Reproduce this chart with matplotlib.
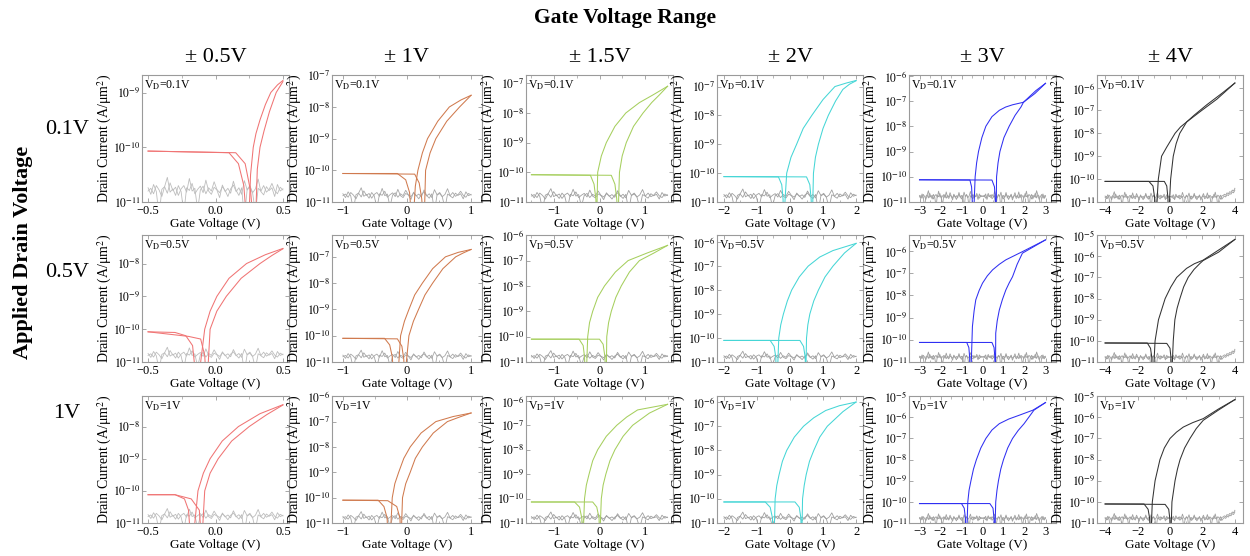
import numpy as np
import matplotlib
matplotlib.use('Agg')
import matplotlib.pyplot as plt
from matplotlib.ticker import FixedLocator, AutoMinorLocator, NullLocator

plt.rcParams['font.family'] = ['Liberation Serif', 'DejaVu Serif']
plt.rcParams['mathtext.fontset'] = 'stix'
plt.rcParams['axes.unicode_minus'] = True

# ---------------- data ----------------
sweep_ranges = [0.5, 1, 1.5, 2, 3, 4]
col_titles = ['± 0.5V', '± 1V', '± 1.5V', '± 2V', '± 3V', '± 4V']
drain_labels = ['0.1V', '0.5V', '1V']
vd_texts = [r'V$_{\mathrm{D}}$=0.1V', r'V$_{\mathrm{D}}$=0.5V', r'V$_{\mathrm{D}}$=1V']
colors = ['#f07474', '#d07a4e', '#a6cf5e', '#45d6d6', '#2f2ff2', '#333333']
noise_colors = ['#bdbdbd', '#a8a8a8', '#a0a0a0', '#a0a0a0', '#a0a0a0', '#a0a0a0']

x_half = [0.545, 1.17, 1.62, 2.21, 3.5, 4.5]
x_ticks = [[-0.5, 0, 0.5], [-1, 0, 1], [-1, 0, 1], [-2, -1, 0, 1, 2],
           [-3, -2, -1, 0, 1, 2, 3], [-4, -2, 0, 2, 4]]

ytop_vd01 = [-8.68, -6.99, -6.72, -6.6, -5.97, -5.45]
ytop_vd05 = [-7.13, -6.17, -5.99, -5.7, -5.28, -4.99]
ytop_vd1 = [-7.05, -5.99, -5.8, -5.75, -4.99, -4.99]

# V_D = 0.1 V : branch A (left threshold) and branch B (right threshold), log10(I)
vd01_a_V = [
    [-0.5, 0.10, 0.17, 0.21, 0.235, 0.245, 0.26, 0.28, 0.30, 0.33, 0.37, 0.41, 0.46, 0.5],
    [-1, -0.15, -0.02, 0.04, 0.07, 0.10, 0.13, 0.17, 0.24, 0.32, 0.48, 0.66, 0.84, 1.0],
    [-1.5, -0.2, -0.12, -0.08, -0.07, -0.06, -0.04, 0.04, 0.15, 0.34, 0.58, 0.88, 1.18, 1.5],
    [-2, -0.35, -0.25, -0.21, -0.2, -0.18, -0.1, 0.03, 0.2, 0.4, 0.66, 1.0, 1.36, 1.7, 2.0],
    [-3, -0.6, -0.52, -0.49, -0.48, -0.42, -0.35, -0.28, -0.19, -0.03, 0.16, 0.45, 0.8, 1.1,
     1.43, 1.95, 2.5, 3.0],
    [-4, -1.3, -1.05, -0.95, -0.93, -0.85, -0.72, -0.52, -0.2, 0.31, 0.65, 1.03, 1.86, 2.9, 4.0],
]
vd01_a_logI = [
    [-10.07, -10.1, -10.3, -10.7, -11.5, -11.5, -10.5, -10.0, -9.75, -9.5, -9.22, -9.0, -8.86, -8.78],
    [-10.1, -10.1, -10.3, -10.7, -11.5, -11.5, -10.5, -10.0, -9.45, -9.0, -8.45, -8.0, -7.78, -7.63],
    [-10.08, -10.1, -10.4, -10.9, -11.5, -11.5, -10.0, -9.45, -9.0, -8.45, -8.0, -7.65, -7.39, -7.1],
    [-10.12, -10.13, -10.4, -10.9, -11.5, -11.5, -10.0, -9.45, -9.0, -8.45, -8.0, -7.45, -7.0,
     -6.88, -6.79],
    [-10.12, -10.13, -10.4, -10.9, -11.5, -11.5, -10.0, -9.45, -9.0, -8.45, -8.0, -7.62, -7.37,
     -7.24, -7.15, -7.05, -6.7, -6.3],
    [-10.1, -10.1, -10.3, -10.8, -11.5, -11.5, -10.0, -9.0, -8.6, -8.0, -7.72, -7.5, -7.05, -6.5, -5.8],
]
vd01_b_V = [
    [-0.5, 0.15, 0.22, 0.26, 0.285, 0.295, 0.31, 0.33, 0.36, 0.40, 0.45, 0.5],
    [-1, 0.12, 0.19, 0.23, 0.25, 0.27, 0.29, 0.36, 0.45, 0.62, 0.82, 1.0],
    [-1.5, 0.26, 0.34, 0.38, 0.40, 0.41, 0.44, 0.5, 0.59, 0.75, 0.96, 1.15, 1.32, 1.5],
    [-2, 0.5, 0.6, 0.64, 0.66, 0.68, 0.71, 0.77, 0.86, 1.0, 1.16, 1.38, 1.6, 1.8, 2.0],
    [-3, 0.45, 0.57, 0.61, 0.63, 0.65, 0.67, 0.74, 0.83, 1.02, 1.27, 1.55, 1.83, 1.95, 2.54, 3.0],
    [-4, -0.35, -0.2, -0.13, -0.1, -0.07, 0.04, 0.2, 0.38, 0.6, 1.03, 1.5, 2.27, 3.2, 4.0],
]
vd01_b_logI = [
    [-10.07, -10.1, -10.3, -10.8, -11.5, -11.5, -10.4, -10.0, -9.7, -9.35, -9.0, -8.8],
    [-10.1, -10.12, -10.4, -10.9, -11.5, -11.5, -10.0, -9.45, -9.0, -8.45, -8.0, -7.63],
    [-10.08, -10.1, -10.4, -10.9, -11.5, -11.5, -10.0, -9.45, -9.0, -8.45, -8.0, -7.65, -7.39, -7.1],
    [-10.12, -10.13, -10.4, -10.9, -11.5, -11.5, -10.0, -9.45, -9.0, -8.45, -8.0, -7.5, -7.1,
     -6.92, -6.8],
    [-10.12, -10.13, -10.4, -10.9, -11.5, -11.5, -10.0, -9.45, -9.0, -8.45, -8.0, -7.57, -7.24,
     -7.05, -6.59, -6.3],
    [-10.1, -10.1, -10.3, -10.8, -11.5, -11.5, -10.0, -9.0, -8.45, -8.0, -7.5, -7.2, -6.75, -6.25, -5.8],
]

# V_D = 0.5 V
vd05_a_V = [
    [-0.5, -0.3, -0.22, -0.17, -0.145, -0.125, -0.08, -0.04, 0.01, 0.1, 0.23, 0.37, 0.5],
    [-1, -0.35, -0.27, -0.23, -0.21, -0.14, -0.1, -0.04, 0.03, 0.12, 0.24, 0.4, 0.6, 0.8, 1.0],
    [-1.5, -0.45, -0.36, -0.33, -0.32, -0.29, -0.26, -0.22, -0.15, -0.04, 0.11, 0.35, 0.63, 1.05, 1.5],
    [-2, -0.6, -0.48, -0.43, -0.42, -0.38, -0.34, -0.28, -0.2, -0.08, 0.05, 0.28, 0.55, 0.9, 1.3, 2.0],
    [-3, -0.75, -0.65, -0.61, -0.6, -0.55, -0.48, -0.4, -0.32, -0.16, 0.0, 0.23, 0.48, 0.8, 1.11,
     1.9, 3.0],
    [-4, -1.4, -1.2, -1.12, -1.1, -1.02, -0.92, -0.71, -0.3, 0.05, 0.41, 1.02, 1.5, 2.04, 3.0, 4.0],
]
vd05_a_logI = [
    [-10.08, -10.1, -10.2, -10.5, -11.5, -11.5, -10.0, -9.45, -9.0, -8.45, -8.0, -7.73, -7.54],
    [-10.1, -10.1, -10.35, -10.8, -11.5, -11.5, -10.0, -9.45, -9.0, -8.45, -8.0, -7.45, -7.0,
     -6.83, -6.72],
    [-10.1, -10.1, -10.35, -10.8, -11.5, -11.5, -10.0, -9.45, -9.0, -8.45, -8.0, -7.45, -7.0,
     -6.7, -6.4],
    [-10.1, -10.1, -10.35, -10.8, -11.5, -11.5, -10.0, -9.45, -9.0, -8.45, -8.0, -7.45, -7.0,
     -6.62, -6.35, -6.05],
    [-10.12, -10.12, -10.35, -10.8, -11.5, -11.5, -9.4, -8.7, -8.2, -7.78, -7.45, -7.12, -6.85,
     -6.6, -6.4, -6.03, -5.5],
    [-10.1, -10.1, -10.35, -10.8, -11.5, -11.5, -10.0, -9.0, -8.0, -7.45, -7.0, -6.57, -6.35,
     -6.18, -5.7, -5.2],
]
vd05_b_V = [
    [-0.5, -0.2, -0.11, -0.08, -0.07, -0.06, -0.04, 0.01, 0.08, 0.19, 0.33, 0.42, 0.5],
    [-1, -0.15, -0.08, -0.05, -0.04, -0.03, 0.03, 0.1, 0.18, 0.28, 0.4, 0.56, 0.76, 0.88, 1.0],
    [-1.5, 0.0, 0.08, 0.12, 0.13, 0.15, 0.16, 0.2, 0.26, 0.36, 0.48, 0.66, 0.88, 1.2, 1.5],
    [-2, 0.3, 0.41, 0.46, 0.47, 0.48, 0.5, 0.54, 0.6, 0.72, 0.86, 1.06, 1.3, 1.65, 2.0],
    [-3, 0.45, 0.55, 0.59, 0.6, 0.62, 0.63, 0.7, 0.8, 0.95, 1.11, 1.27, 1.43, 1.65, 1.9, 2.45, 3.0],
    [-4, -0.2, 0.0, 0.06, 0.08, 0.12, 0.2, 0.3, 0.44, 0.61, 0.84, 1.12, 1.48, 1.84, 2.04, 3.0, 4.0],
]
vd05_b_logI = [
    [-10.08, -10.22, -10.3, -10.8, -11.5, -11.5, -10.0, -9.45, -9.0, -8.45, -8.0, -7.75, -7.55],
    [-10.1, -10.12, -10.4, -10.9, -11.5, -11.5, -10.0, -9.45, -9.0, -8.45, -8.0, -7.45, -7.0,
     -6.85, -6.72],
    [-10.1, -10.1, -10.3, -10.8, -11.5, -11.5, -10.0, -9.45, -9.0, -8.45, -8.0, -7.45, -7.0,
     -6.7, -6.4],
    [-10.1, -10.1, -10.35, -10.8, -11.5, -11.5, -10.0, -9.45, -9.0, -8.45, -8.0, -7.45, -7.0,
     -6.45, -6.05],
    [-10.12, -10.12, -10.35, -10.8, -11.5, -11.5, -9.7, -9.15, -8.66, -8.18, -7.76, -7.44, -7.16,
     -6.6, -6.1, -5.8, -5.5],
    [-10.1, -10.12, -10.35, -10.8, -11.5, -11.5, -10.0, -9.0, -8.45, -8.0, -7.45, -7.0, -6.62,
     -6.34, -6.2, -5.8, -5.2],
]

# V_D = 1 V
vd1_a_V = [
    [-0.5, -0.3, -0.23, -0.2, -0.185, -0.165, -0.13, -0.09, -0.04, 0.05, 0.17, 0.33, 0.5],
    [-1, -0.45, -0.36, -0.31, -0.3, -0.26, -0.23, -0.19, -0.13, -0.05, 0.05, 0.22, 0.45, 0.72, 1.0],
    [-1.5, -0.55, -0.44, -0.39, -0.38, -0.36, -0.33, -0.29, -0.23, -0.15, -0.04, 0.15, 0.38, 0.6,
     0.84, 1.5],
    [-2, -0.75, -0.6, -0.53, -0.52, -0.48, -0.45, -0.4, -0.33, -0.23, -0.1, 0.13, 0.41, 0.72,
     1.08, 1.5, 2.0],
    [-3, -1.0, -0.87, -0.81, -0.8, -0.75, -0.7, -0.64, -0.55, -0.43, -0.29, -0.08, 0.16, 0.45,
     0.8, 1.25, 1.75, 2.4, 3.0],
    [-4, -1.6, -1.35, -1.25, -1.23, -1.17, -1.09, -0.92, -0.62, -0.35, 0.0, 0.4, 0.82, 1.4, 2.05,
     3.0, 4.0],
]
vd1_a_logI = [
    [-10.12, -10.12, -10.25, -10.6, -11.5, -11.5, -10.0, -9.45, -9.0, -8.45, -8.0, -7.6, -7.32],
    [-10.1, -10.1, -10.35, -10.8, -11.5, -11.5, -10.0, -9.45, -9.0, -8.45, -8.0, -7.45, -7.0,
     -6.8, -6.66],
    [-10.14, -10.14, -10.35, -10.8, -11.5, -11.5, -10.0, -9.45, -9.0, -8.45, -8.0, -7.45, -7.0,
     -6.66, -6.37, -6.14],
    [-10.13, -10.13, -10.35, -10.8, -11.5, -11.5, -10.0, -9.45, -9.0, -8.45, -8.0, -7.45, -7.0,
     -6.65, -6.35, -6.15, -6.0],
    [-10.08, -10.08, -10.3, -10.8, -11.5, -11.5, -10.0, -9.45, -9.0, -8.45, -8.0, -7.45, -7.0,
     -6.6, -6.3, -6.08, -5.9, -5.66, -5.3],
    [-10.1, -10.1, -10.35, -10.8, -11.5, -11.5, -10.0, -9.0, -8.0, -7.45, -7.0, -6.7, -6.46,
     -6.25, -6.06, -5.6, -5.16],
]
vd1_b_V = [
    [-0.5, -0.3, -0.18, -0.12, -0.105, -0.1, -0.08, -0.04, 0.02, 0.12, 0.25, 0.38, 0.5],
    [-1, -0.3, -0.16, -0.11, -0.1, -0.09, -0.07, -0.02, 0.05, 0.13, 0.24, 0.41, 0.63, 0.82, 1.0],
    [-1.5, -0.15, -0.06, -0.01, 0.0, 0.01, 0.04, 0.08, 0.14, 0.23, 0.34, 0.52, 0.73, 1.1, 1.5],
    [-2, 0.15, 0.28, 0.33, 0.34, 0.36, 0.38, 0.43, 0.49, 0.59, 0.72, 0.9, 1.13, 1.6, 2.0],
    [-3, 0.35, 0.5, 0.55, 0.56, 0.59, 0.63, 0.69, 0.76, 0.87, 1.0, 1.2, 1.43, 1.7, 1.98, 2.45, 3.0],
    [-4, -0.3, -0.08, -0.01, 0.0, 0.06, 0.12, 0.31, 0.46, 0.62, 0.9, 1.23, 1.62, 2.05, 3.0, 4.0],
]
vd1_b_logI = [
    [-10.12, -10.12, -10.25, -10.6, -11.5, -11.5, -10.0, -9.45, -9.0, -8.45, -8.0, -7.63, -7.33],
    [-10.1, -10.12, -10.35, -10.8, -11.5, -11.5, -10.0, -9.45, -9.0, -8.45, -8.0, -7.45, -7.0,
     -6.82, -6.66],
    [-10.14, -10.14, -10.35, -10.8, -11.5, -11.5, -10.0, -9.45, -9.0, -8.45, -8.0, -7.45, -7.0,
     -6.5, -6.14],
    [-10.13, -10.13, -10.35, -10.8, -11.5, -11.5, -10.0, -9.45, -9.0, -8.45, -8.0, -7.45, -7.0,
     -6.4, -6.0],
    [-10.08, -10.08, -10.3, -10.8, -11.5, -11.5, -10.0, -9.45, -9.0, -8.45, -8.0, -7.45, -7.0,
     -6.62, -6.3, -5.66, -5.3],
    [-10.1, -10.12, -10.35, -10.8, -11.5, -11.5, -10.0, -9.0, -8.45, -8.0, -7.45, -7.0, -6.53,
     -6.14, -5.65, -5.16],
]

# gate-leakage / noise floor traces (log10 I), read approximately
noise_a = [-10.80, -10.75, -10.85, -10.70, -10.78, -10.90, -10.72, -10.55, -10.82, -10.76,
           -10.88, -10.70, -10.81, -11.20, -10.74, -10.79, -10.66, -10.85, -10.77, -10.71,
           -10.83, -10.60, -10.80, -10.86, -10.73, -10.78, -10.92, -10.69, -10.81, -10.75,
           -10.84, -10.62, -10.79, -10.88, -10.74, -11.30, -10.77, -10.70, -10.83, -10.76,
           -10.58, -10.81, -10.87, -10.72, -10.79, -10.74, -10.90, -10.68, -10.80, -10.76]
noise_b = [-10.74, -10.86, -10.68, -10.81, -11.25, -10.77, -10.72, -10.84, -10.65, -10.79,
           -10.73, -10.88, -10.76, -10.70, -10.82, -10.57, -10.80, -10.75, -11.15, -10.78,
           -10.71, -10.85, -10.74, -10.80, -10.63, -10.77, -10.83, -10.72, -10.79, -10.90,
           -10.76, -10.69, -10.81, -10.74, -10.86, -10.61, -10.78, -10.73, -10.84, -11.20,
           -10.75, -10.80, -10.70, -10.82, -10.77, -10.66, -10.79, -10.85, -10.73, -10.78]
noise_tail_4V = [-10.72, -10.66, -10.70, -10.60, -10.64, -10.55, -10.58, -10.48, -10.52, -10.40]

row_a_V = [vd01_a_V, vd05_a_V, vd1_a_V]
row_a_I = [vd01_a_logI, vd05_a_logI, vd1_a_logI]
row_b_V = [vd01_b_V, vd05_b_V, vd1_b_V]
row_b_I = [vd01_b_logI, vd05_b_logI, vd1_b_logI]
row_ytop = [ytop_vd01, ytop_vd05, ytop_vd1]

# ---------------- layout ----------------
W, H = 1250, 556
fig = plt.figure(figsize=(12.5, 5.56), dpi=100)
lefts_px = [142, 332, 526, 717, 909, 1097]
widths_px = [147, 150, 147, 146, 147, 146]
tops_px = [75, 235, 396]
h_px = 127
spine_col = '#9a9a9a'

for r in range(3):
    for c in range(6):
        ax = fig.add_axes([lefts_px[c] / W, 1 - (tops_px[r] + h_px) / H,
                           widths_px[c] / W, h_px / H])
        vmax = sweep_ranges[c]
        # noise floor
        if c >= 4:
            na = noise_a + noise_b[::-1]
            nb = noise_b + noise_a[::-1]
        else:
            na, nb = noise_a, noise_b
        na = list(na)
        nb = list(nb)
        if c == 5:
            k = len(noise_tail_4V)
            na[-k:] = noise_tail_4V
            nb[-k:] = [v - 0.08 for v in noise_tail_4V]
        for nz in (na, nb):
            xv = np.linspace(-vmax, vmax, len(nz))
            ax.plot(xv, 10.0 ** np.array(nz), color=noise_colors[c], lw=0.6)
        # transfer curves
        for Vs, Is in ((row_a_V[r][c], row_a_I[r][c]), (row_b_V[r][c], row_b_I[r][c])):
            ax.plot(Vs, 10.0 ** np.array(Is), color=colors[c], lw=0.75)

        ax.set_yscale('log')
        ax.set_xlim(-x_half[c], x_half[c])
        ytop = row_ytop[r][c]
        ax.set_ylim(1e-11, 10 ** ytop)
        decs = list(range(-11, int(np.floor(ytop + 1e-9)) + 1))
        ax.yaxis.set_major_locator(FixedLocator([10.0 ** d for d in decs]))
        ax.yaxis.set_minor_locator(NullLocator())
        ax.set_yticklabels([r'$10^{%d}$' % d for d in decs])
        ax.xaxis.set_major_locator(FixedLocator(x_ticks[c]))
        ax.xaxis.set_minor_locator(AutoMinorLocator(2))
        if c == 0:
            labs = ['%.1f' % t for t in x_ticks[c]]
        else:
            labs = ['%g' % t for t in x_ticks[c]]
        labs = [s.replace('-', '\u2212') for s in labs]
        ax.set_xticklabels(labs)
        ax.tick_params(which='both', direction='in', top=True, right=True,
                       color=spine_col)
        ax.tick_params(axis='y', labelsize=8.5, pad=1)
        ax.tick_params(axis='x', labelsize=9, pad=2.2)
        ax.tick_params(which='major', length=3, width=0.6)
        ax.tick_params(which='minor', length=1.8, width=0.5)
        for sp in ax.spines.values():
            sp.set_color(spine_col)
            sp.set_linewidth(0.8)
        ax.set_ylabel('Drain Current (A/μm$^2$)', fontsize=10)
        ax.yaxis.set_label_coords(-28.5 / widths_px[c], 0.5)
        ax.set_xlabel('Gate Voltage (V)', fontsize=9.5)
        ax.xaxis.set_label_coords(0.5, -16.0 / h_px)
        ax.text(0.015, 0.975, vd_texts[r], transform=ax.transAxes, ha='left', va='top',
                fontsize=8.5)

# titles and row labels
fig.text(625 / W, 1 - 18 / H, 'Gate Voltage Range', ha='center', va='center',
         fontsize=15.5, fontweight='bold')
for c in range(6):
    fig.text((lefts_px[c] + widths_px[c] / 2) / W, 1 - 57 / H, col_titles[c],
             ha='center', va='center', fontsize=16)
row_label_y = [130, 272, 413]
for r in range(3):
    fig.text(67 / W, 1 - row_label_y[r] / H, drain_labels[r], ha='center', va='center',
             fontsize=16)
fig.text(23 / W, 1 - 252 / H, 'Applied Drain Voltage', ha='center', va='center',
         rotation=90, fontsize=16, fontweight='bold')

fig.savefig('out.png', dpi=100)
